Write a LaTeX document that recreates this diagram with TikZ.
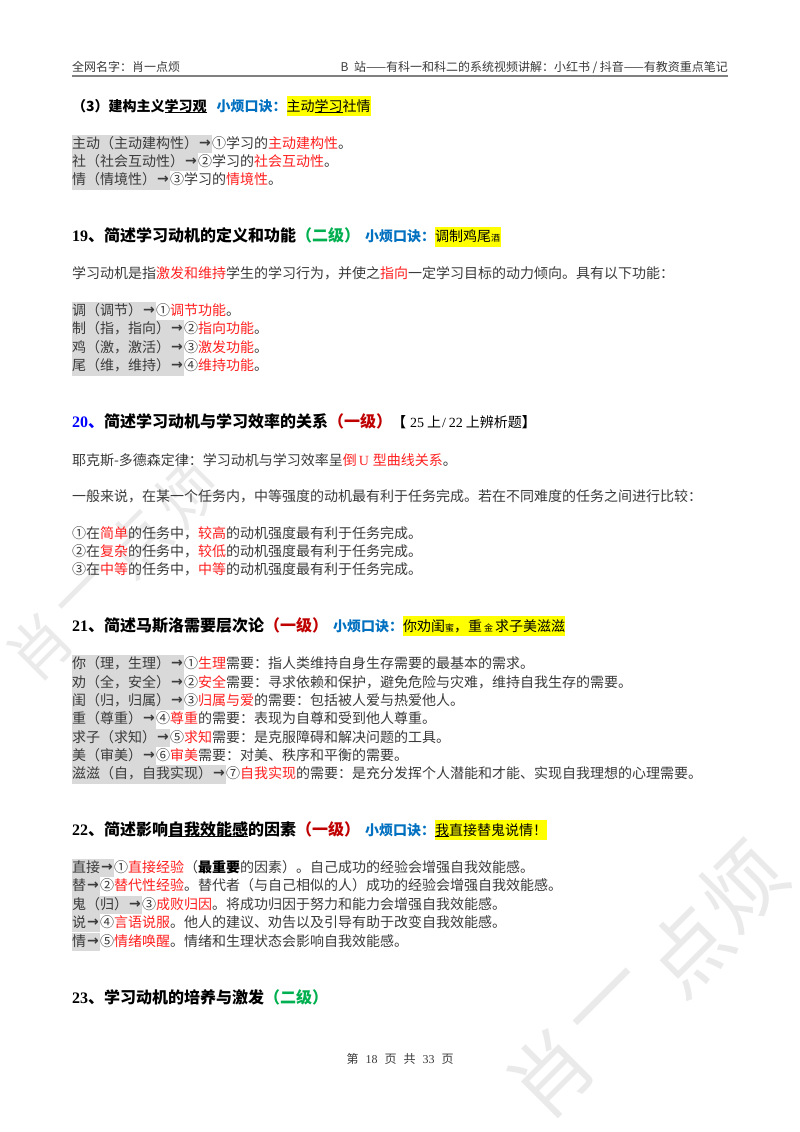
\documentclass[tikz,border=0pt]{standalone}
\usepackage{fontspec}
\setmainfont{Noto Sans CJK SC}
\newfontfamily\enf{Liberation Serif}
\newfontfamily\arrf{DejaVu Sans}
\definecolor{txtc}{HTML}{3A3A3A}
\definecolor{hlg}{HTML}{D9D9D9}
\definecolor{hly}{HTML}{FFFF00}
\definecolor{kred}{HTML}{FF2020}
\definecolor{dred}{HTML}{C00000}
\definecolor{kblue}{HTML}{0070C0}
\definecolor{kgreen}{HTML}{00B050}
\definecolor{pblue}{HTML}{0000FF}
\definecolor{wmk}{HTML}{EAEAEA}
\definecolor{rulec}{HTML}{808080}
\newcommand\en[1]{{\enf #1}}
\newcommand\arr{\makebox[14pt]{\raisebox{0.6pt}{\fontsize{14}{14}\arrf\bfseries →}}}
\newcommand\gy[1]{\setbox0\hbox{#1}\rlap{\textcolor{hlg}{\rule[-5pt]{\wd0}{18.4pt}}}\box0}
\newcommand\yl[1]{\setbox0\hbox{#1}\rlap{\textcolor{hly}{\rule[-5pt]{\wd0}{20pt}}}\box0}
\newcommand\ulx[1]{\setbox2\hbox{#1}\rlap{\rule[-2.2pt]{\wd2}{0.9pt}}\box2}
\newcommand\rd[1]{\textcolor{kred}{#1}}
\newcommand\sm[1]{{\fontsize{9}{9}\selectfont #1}}
\newcommand\koujue{{\fontsize{14}{14}\selectfont\bfseries\color{kblue}小烦口诀：}}
\newcommand\lvone{\textcolor{dred}{（一级）}}
\newcommand\lvtwo{\textcolor{kgreen}{（二级）}}
\tikzset{
  every node/.style={inner sep=0pt,outer sep=0pt,anchor=base west,text=txtc,font=\fontsize{14}{14}\selectfont},
  hd/.style={text=black,font=\fontsize{16}{16}\selectfont\bfseries},
  hdsmall/.style={text=black,font=\fontsize{14}{14}\selectfont\bfseries},
  pagetxt/.style={text=txtc,font=\fontsize{12}{12}\selectfont},
  wm/.style={anchor=center,rotate=45,text=wmk}
}
\begin{document}
\begin{tikzpicture}[x=1pt,y=-1pt]
\useasboundingbox (0,0) rectangle (800,1132);
\fill[white] (0,0) rectangle (800,1132);
% watermarks
\node[wm,font=\fontsize{62}{62}\selectfont] (wa1) at (40,647) {肖};
\node[wm,font=\fontsize{62}{62}\selectfont] (wa2) at (88,595) {一};
\node[wm,font=\fontsize{62}{62}\selectfont] (wa3) at (138,543) {点};
\node[wm,font=\fontsize{62}{62}\selectfont] (wa4) at (188,493) {烦};
\node[wm,font=\fontsize{82}{82}\selectfont] (wb1) at (550,1073) {肖};
\node[wm,font=\fontsize{82}{82}\selectfont] (wb2) at (612,1007) {一};
\node[wm,font=\fontsize{82}{82}\selectfont] (wb3) at (688,950) {点};
\node[wm,font=\fontsize{82}{82}\selectfont] (wb4) at (743,886) {烦};
% header
\node[pagetxt] (hl) at (72,71) {全网名字：肖一点烦};
\node[pagetxt,anchor=base east] (hr) at (728,71) {B\hspace{3pt} 站——有科一和科二的系统视频讲解：小红书\hspace{2.5pt}/\hspace{2.5pt}抖音——有教资重点笔记};
\coordinate (rulea) at (72,75.7);
\coordinate (ruleb) at (728,75.7);
\draw[line width=2pt,color=rulec] (rulea) -- (ruleb);
% (3)
\node[hdsmall] (h3) at (72,111) {（3）建构主义\ulx{学习观}\hspace{10pt}\koujue\yl{{\mdseries 主动\ulx{学习}社情}}};
\node (a1) at (72,148) {\gy{主动（主动建构性）\arr}①学习的\rd{主动建构性}。};
\node (a2) at (72,166) {\gy{社（社会互动性）\arr}②学习的\rd{社会互动性}。};
\node (a3) at (72,184.5) {\gy{情（情境性）\arr}③学习的\rd{情境性}。};
% 19
\node[hd] (h19) at (72,241.5) {\en{19}、简述学习动机的定义和功能\lvtwo\hspace{5pt}\koujue\yl{{\fontsize{14}{14}\selectfont\mdseries 调制鸡尾\sm{酒}\hspace{1pt}}}};
\node (b0) at (72,278) {学习动机是指\rd{激发和维持}学生的学习行为，并使之\rd{指向}一定学习目标的动力倾向。具有以下功能：};
\node (b1) at (72,315) {\gy{调（调节）\arr}①\rd{调节功能}。};
\node (b2) at (72,333.5) {\gy{制（指，指向）\arr}②\rd{指向功能}。};
\node (b3) at (72,352) {\gy{鸡（激，激活）\arr}③\rd{激发功能}。};
\node (b4) at (72,370.5) {\gy{尾（维，维持）\arr}④\rd{维持功能}。};
% 20
\node[hd] (h20) at (72,427.5) {\textcolor{pblue}{\en{20}、}简述学习动机与学习效率的关系\lvone{\fontsize{14}{14}\selectfont 【\hspace{4pt}\mdseries\en{25}\hspace{3pt}上\hspace{1pt}\en{/}\hspace{3pt}\en{22}\hspace{3pt}上辨析题\bfseries 】}};
\node (c0) at (72,465) {耶克斯-多德森定律：学习动机与学习效率呈\rd{倒\hspace{2pt}\en{U}\hspace{4pt}型曲线关系}。};
\node (c1) at (72,501.5) {一般来说，在某一个任务内，中等强度的动机最有利于任务完成。若在不同难度的任务之间进行比较：};
\node (c2) at (72,538) {①在\rd{简单}的任务中，\rd{较高}的动机强度最有利于任务完成。};
\node (c3) at (72,556) {②在\rd{复杂}的任务中，\rd{较低}的动机强度最有利于任务完成。};
\node (c4) at (72,574.5) {③在\rd{中等}的任务中，\rd{中等}的动机强度最有利于任务完成。};
% 21
\node[hd] (h21) at (72,631) {\en{21}、简述马斯洛需要层次论\lvone\hspace{5pt}\koujue\yl{{\fontsize{14}{14}\selectfont\mdseries 你劝闺\sm{蜜}，重\hspace{2pt}\sm{金}\hspace{2pt}求子美滋滋}}};
\node (d1) at (72,668.5) {\gy{你（理，生理）\arr}①\rd{生理}需要：指人类维持自身生存需要的最基本的需求。};
\node (d2) at (72,687) {\gy{劝（全，安全）\arr}②\rd{安全}需要：寻求依赖和保护，避免危险与灾难，维持自我生存的需要。};
\node (d3) at (72,705) {\gy{闺（归，归属）\arr}③\rd{归属与爱}的需要：包括被人爱与热爱他人。};
\node (d4) at (72,723.5) {\gy{重（尊重）\arr}④\rd{尊重}的需要：表现为自尊和受到他人尊重。};
\node (d5) at (72,742) {\gy{求子（求知）\arr}⑤\rd{求知}需要：是克服障碍和解决问题的工具。};
\node (d6) at (72,760) {\gy{美（审美）\arr}⑥\rd{审美}需要：对美、秩序和平衡的需要。};
\node (d7) at (72,778.5) {\gy{滋滋（自，自我实现）\arr}⑦\rd{自我实现}的需要：是充分发挥个人潜能和才能、实现自我理想的心理需要。};
% 22
\node[hd] (h22) at (72,835) {\en{22}、简述影响\ulx{自我效能感}的因素\lvone\hspace{5pt}\koujue\yl{{\fontsize{14}{14}\selectfont\mdseries\ulx{我}直接替鬼说情！}}};
\node (e1) at (72,872) {\gy{直接\arr}①\rd{直接经验}（{\color{black}\bfseries 最重要}的因素）。自己成功的经验会增强自我效能感。};
\node (e2) at (72,890.5) {\gy{替\arr}②\rd{替代性经验}。替代者（与自己相似的人）成功的经验会增强自我效能感。};
\node (e3) at (72,909) {\gy{鬼（归）\arr}③\rd{成败归因}。将成功归因于努力和能力会增强自我效能感。};
\node (e4) at (72,927) {\gy{说\arr}④\rd{言语说服}。他人的建议、劝告以及引导有助于改变自我效能感。};
\node (e5) at (72,946) {\gy{情\arr}⑤\rd{情绪唤醒}。情绪和生理状态会影响自我效能感。};
% 23
\node[hd] (h23) at (72,1003) {\en{23}、学习动机的培养与激发\lvtwo};
% footer
\node[pagetxt,anchor=base] (ft) at (400,1063) {第\hspace{7pt}\en{18}\hspace{7pt}页\hspace{7pt}共\hspace{7pt}\en{33}\hspace{7pt}页};
\end{tikzpicture}
\end{document}
